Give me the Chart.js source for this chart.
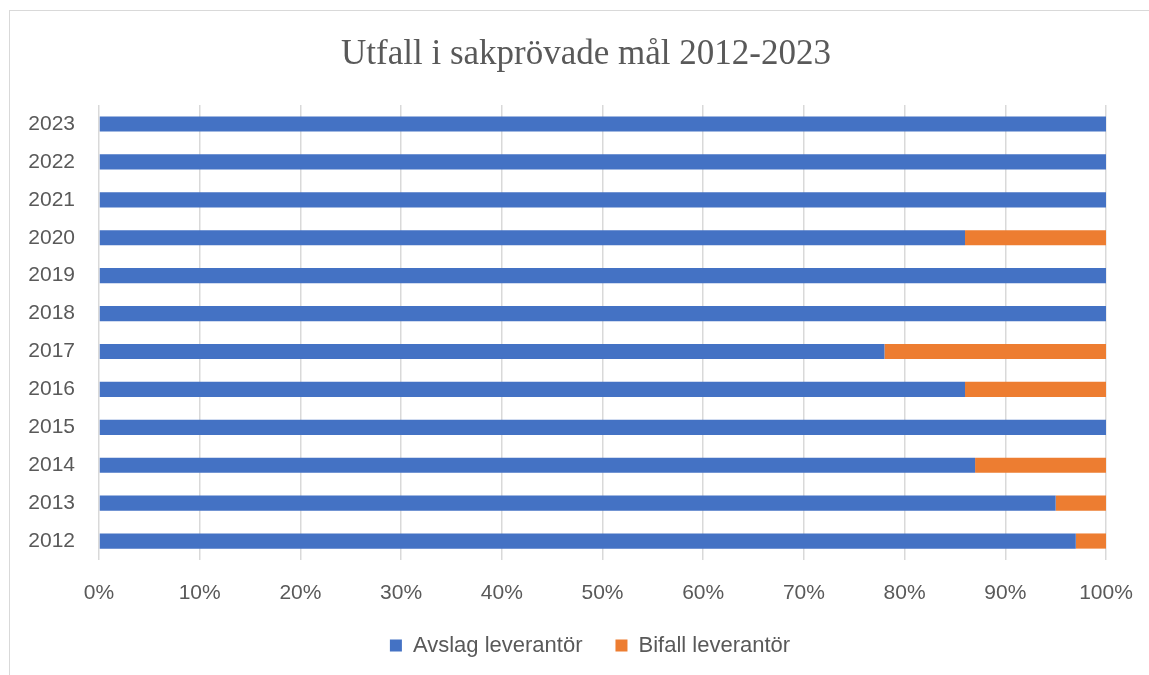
<!DOCTYPE html>
<html>
<head>
<meta charset="utf-8">
<script src="https://cdn.jsdelivr.net/npm/chart.js@4.4.1/dist/chart.umd.min.js"></script>
<style>
  html, body { margin: 0; padding: 0; background: #ffffff; }
  #wrap { position: relative; width: 1149px; height: 675px; overflow: hidden; }
  #frame { position: absolute; left: 9px; top: 10px; width: 1200px; height: 700px;
           border-top: 1.5px solid #d9d9d9; border-left: 1.5px solid #d9d9d9; pointer-events: none; }
  canvas { position: absolute; left: 0; top: 0; }
</style>
</head>
<body>
<div id="wrap">
  <canvas id="c" width="1149" height="675"></canvas>
  <div id="frame"></div>
</div>
<script>
const years = ['2012','2013','2014','2015','2016','2017','2018','2019','2020','2021','2022','2023'];
const avslagLeverantor = [97, 95, 87, 100, 86, 78, 100, 100, 86, 100, 100, 100];
const bifallLeverantor = [3, 5, 13, 0, 14, 22, 0, 0, 14, 0, 0, 0];
const xTicks = [0,10,20,30,40,50,60,70,80,90,100];
const seriesNames = ['Avslag leverantör', 'Bifall leverantör'];
const titleText = 'Utfall i sakprövade mål 2012-2023';

const textColor = '#595959';
const sans = '"Liberation Sans", Arial, sans-serif';

// Centre the title and legend over the chart body (as in the original) rather than the full canvas
const centrePlugin = {
  id: 'centreBlocks',
  afterLayout(chart) {
    const t = chart.titleBlock;
    if (t) { t.left += 33; t.right += 33; }
    const l = chart.legend;
    if (l) { l.left += 37; l.right += 37; }
  }
};

new Chart(document.getElementById('c'), {
  type: 'bar',
  data: {
    labels: years,
    datasets: [
      { label: seriesNames[0], data: avslagLeverantor, backgroundColor: '#4472C4', borderWidth: 0 },
      { label: seriesNames[1], data: bifallLeverantor, backgroundColor: '#ED7D31', borderWidth: 0 }
    ]
  },
  plugins: [centrePlugin],
  options: {
    indexAxis: 'y',
    responsive: false,
    animation: false,
    devicePixelRatio: 1,
    barPercentage: 0.4,
    categoryPercentage: 1,
    layout: { padding: { left: 0, right: 43, top: 0, bottom: 8.5 } },
    plugins: {
      title: {
        display: true,
        text: titleText,
        color: textColor,
        font: { family: '"Liberation Serif", "Times New Roman", serif', size: 35, weight: 'normal' },
        padding: { top: 34, bottom: 29 }
      },
      legend: {
        position: 'bottom',
        labels: {
          color: textColor,
          font: { family: sans, size: 22 },
          boxWidth: 12,
          boxHeight: 12,
          padding: 33
        }
      },
      tooltip: { enabled: false }
    },
    scales: {
      x: {
        stacked: true,
        min: 0,
        max: 100,
        afterBuildTicks: (s) => { s.ticks = xTicks.map(v => ({ value: v })); },
        afterFit: (s) => { s.height = 41.5; s.paddingLeft = 0; s.paddingRight = 0; },
        grid: { color: '#d9d9d9', lineWidth: 1.5, drawTicks: false },
        border: { display: false },
        ticks: {
          color: textColor,
          font: { family: sans, size: 21 },
          padding: 21,
          callback: (v) => v + '%'
        }
      },
      y: {
        stacked: true,
        reverse: true,
        grid: { display: false, drawTicks: false },
        border: { display: false },
        afterFit: (s) => { s.width = 99; },
        ticks: {
          color: textColor,
          font: { family: sans, size: 21 },
          padding: 24
        }
      }
    }
  }
});
</script>
</body>
</html>
